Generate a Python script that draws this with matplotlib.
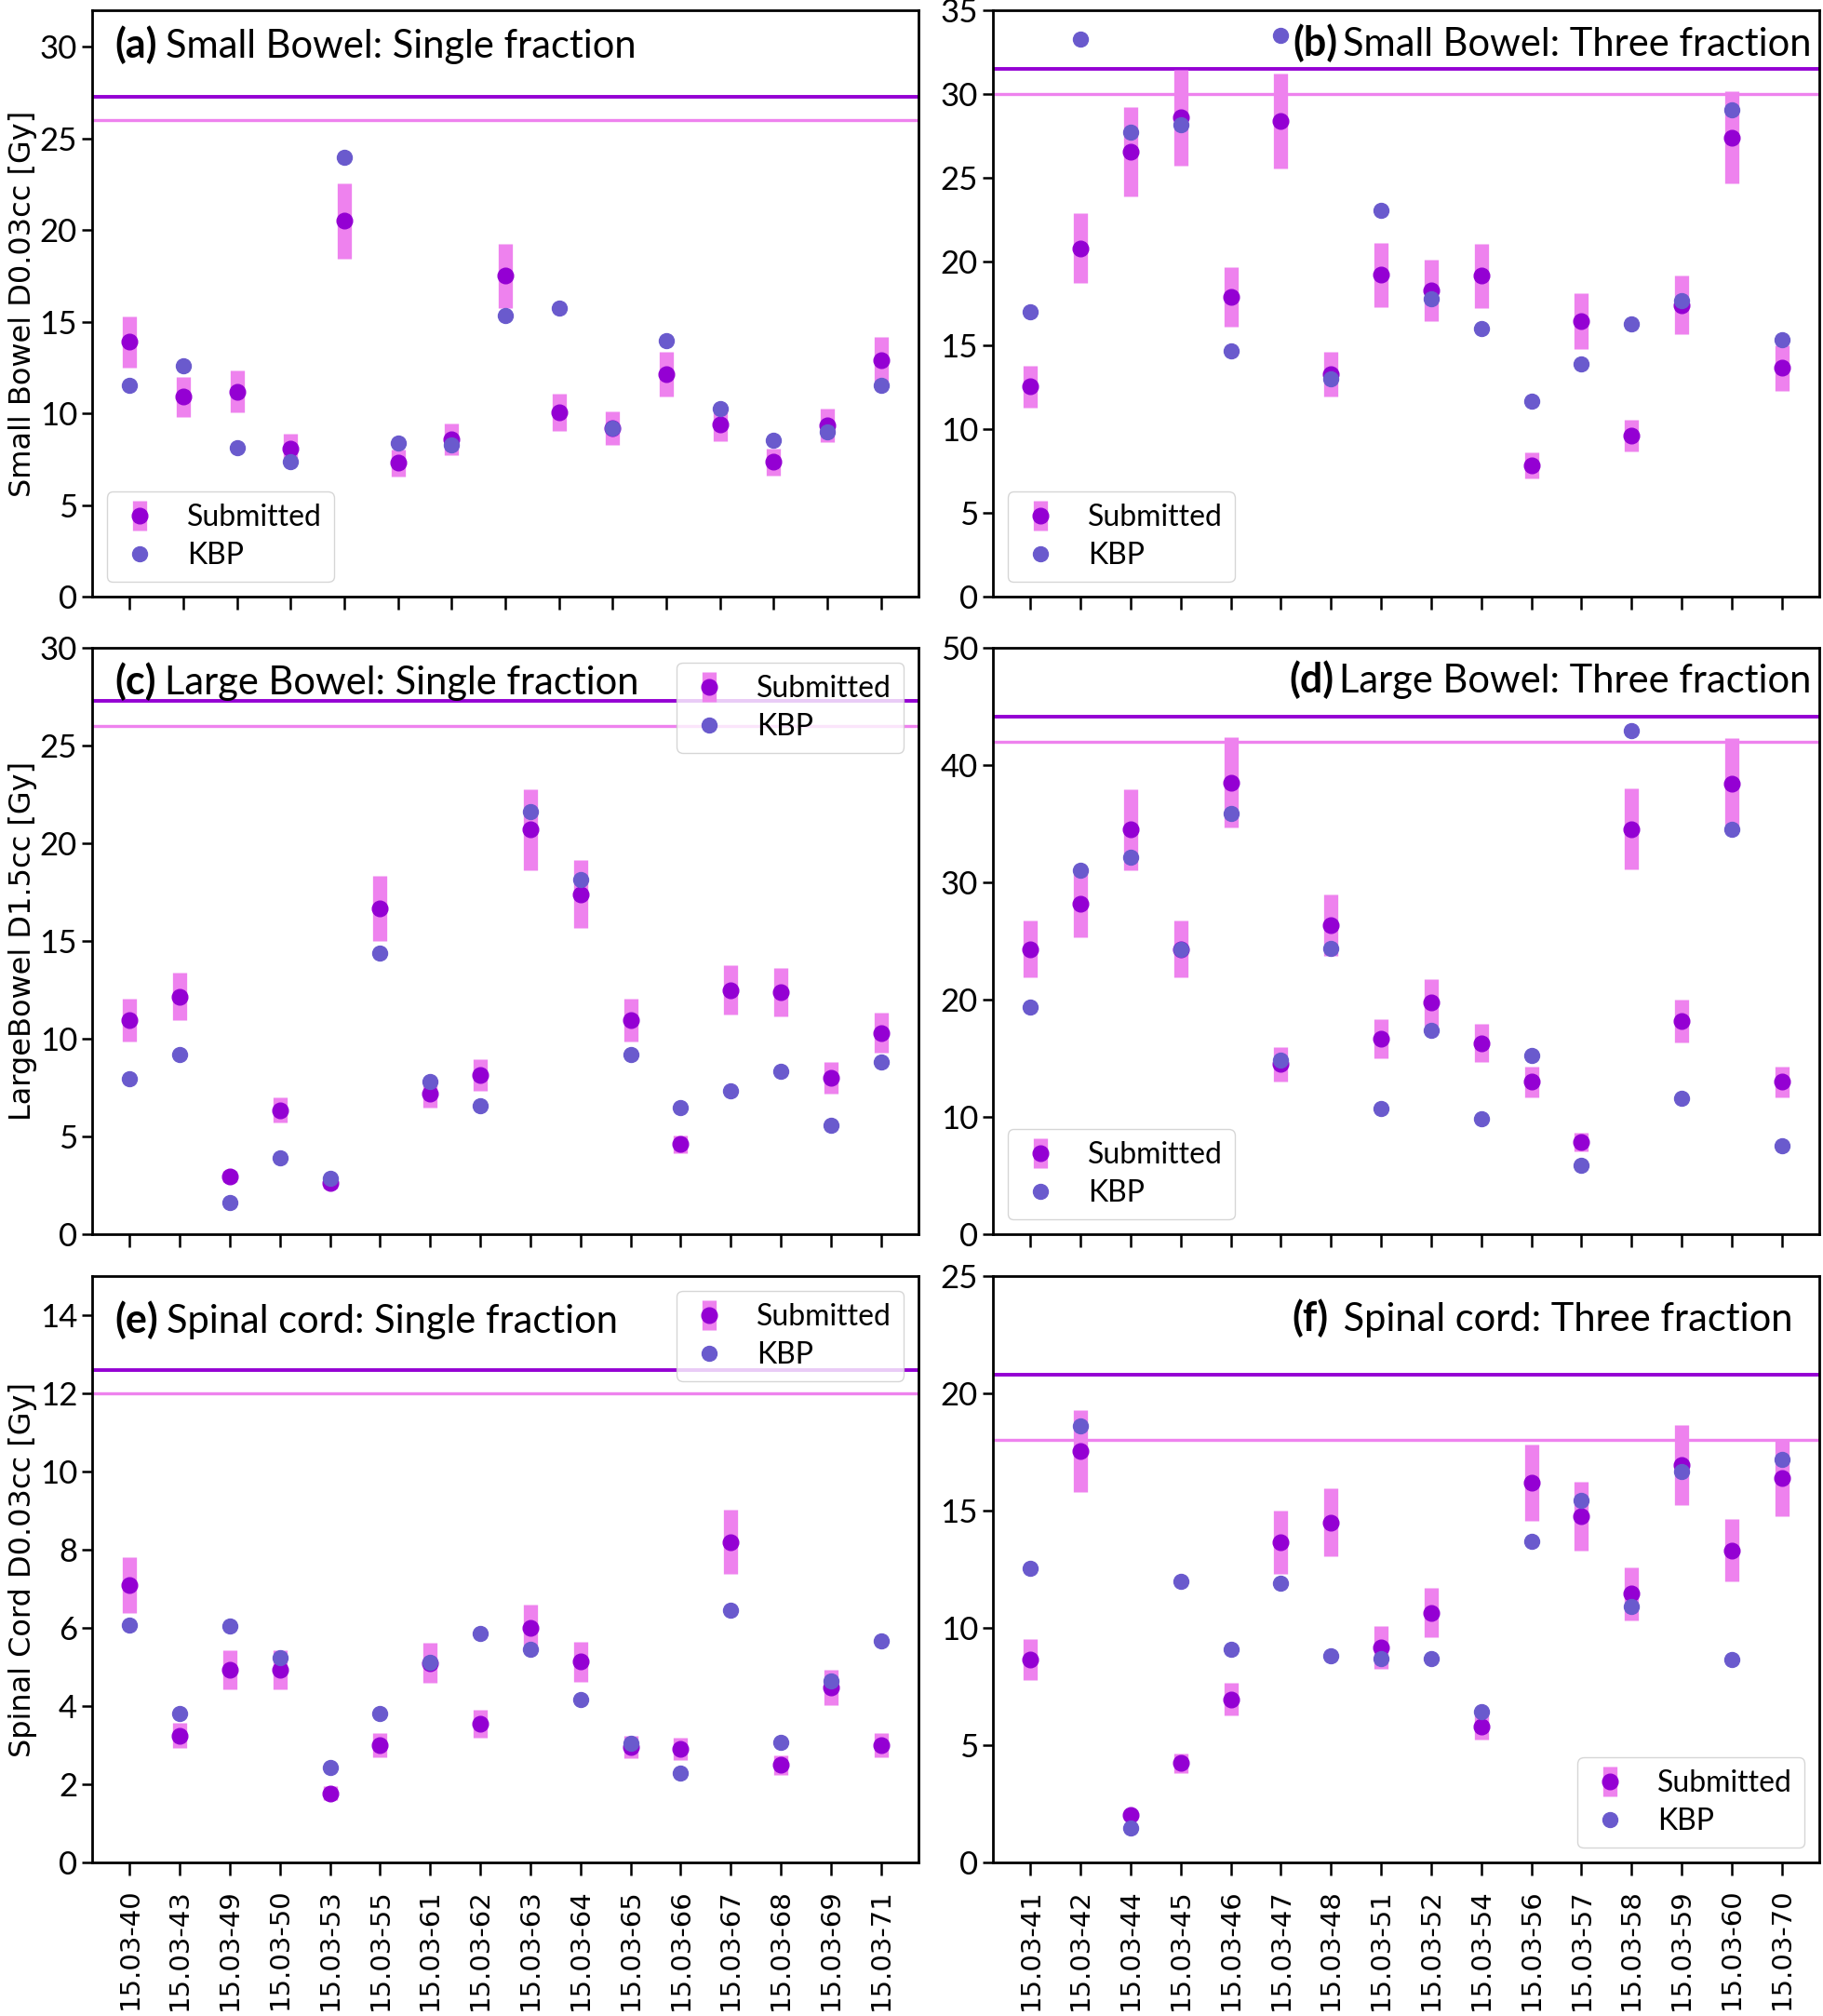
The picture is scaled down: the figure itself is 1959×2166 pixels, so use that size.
import matplotlib
matplotlib.use("Agg")
import matplotlib.pyplot as plt
import numpy as np

plt.rcParams['font.family'] = ['Lato', 'DejaVu Sans']

######### Data #########
labels_single = ['15.03-40', '15.03-43', '15.03-49', '15.03-50', '15.03-53', '15.03-55',
                 '15.03-61', '15.03-62', '15.03-63', '15.03-64', '15.03-65', '15.03-66',
                 '15.03-67', '15.03-68', '15.03-69', '15.03-71']
labels_three = ['15.03-41', '15.03-42', '15.03-44', '15.03-45', '15.03-46', '15.03-47',
                '15.03-48', '15.03-51', '15.03-52', '15.03-54', '15.03-56', '15.03-57',
                '15.03-58', '15.03-59', '15.03-60', '15.03-70']

# (a) Small bowel single fraction (15 cases)
a_sub = [13.9, 10.9, 11.2, 8.1, 20.5, 7.3, 8.6, 17.5, 10.05, 9.2, 12.15, 9.4, 7.35, 9.35, 12.9]
a_kbp = [11.55, 12.6, 8.15, 7.35, 24.0, 8.4, 8.3, 15.35, 15.75, 9.2, 13.95, 10.25, 8.55, 9.0, 11.55]
# (b) Small bowel three fraction
b_sub = [12.55, 20.8, 26.55, 28.6, 17.9, 28.4, 13.3, 19.2, 18.3, 19.15, 7.85, 16.45, 9.6, 17.4, 27.4, 13.65]
b_kbp = [17.0, 33.3, 27.75, 28.15, 14.65, 33.5, 13.0, 23.05, 17.8, 16.0, 11.65, 13.9, 16.3, 17.65, 29.05, 15.35]
# (c) Large bowel single fraction
c_sub = [10.95, 12.15, 2.95, 6.35, 2.6, 16.65, 7.2, 8.15, 20.7, 17.4, 10.95, 4.6, 12.5, 12.4, 8.0, 10.3]
c_kbp = [7.95, 9.2, 1.6, 3.9, 2.85, 14.4, 7.8, 6.55, 21.6, 18.15, 9.2, 6.5, 7.35, 8.35, 5.55, 8.8]
# (d) Large bowel three fraction
d_sub = [24.3, 28.15, 34.5, 24.3, 38.5, 14.5, 26.35, 16.65, 19.75, 16.3, 13.0, 7.85, 34.55, 18.15, 38.45, 13.0]
d_kbp = [19.4, 31.0, 32.15, 24.3, 35.85, 14.85, 24.35, 10.7, 17.4, 9.85, 15.2, 5.85, 42.9, 11.6, 34.5, 7.55]
# (e) Spinal cord single fraction
e_sub = [7.1, 3.25, 4.93, 4.93, 1.77, 3.0, 5.1, 3.55, 6.0, 5.14, 2.95, 2.9, 8.2, 2.5, 4.47, 3.0]
e_kbp = [6.07, 3.81, 6.05, 5.24, 2.42, 3.81, 5.13, 5.86, 5.45, 4.16, 3.04, 2.28, 6.45, 3.06, 4.65, 5.67]
# (f) Spinal cord three fraction
f_sub = [8.66, 17.55, 2.03, 4.23, 6.95, 13.65, 14.5, 9.15, 10.65, 5.8, 16.2, 14.75, 11.45, 16.95, 13.3, 16.4]
f_kbp = [12.55, 18.6, 1.46, 12.0, 9.07, 11.9, 8.82, 8.7, 8.7, 6.42, 13.7, 15.45, 10.9, 16.65, 8.65, 17.2]

# dose constraints (light) and the higher limit (dark)
limits = [26, 30, 26, 42, 12, 18]
limits_hi = [27.3, 31.5, 27.3, 44.1, 12.6, 20.8]
tolerance = 0.10  # +/- band around submitted dose

titles = [('(a)', 'Small Bowel: Single fraction'),
          ('(b)', 'Small Bowel: Three fraction'),
          ('(c)', 'Large Bowel: Single fraction'),
          ('(d)', 'Large Bowel: Three fraction'),
          ('(e)', 'Spinal cord: Single fraction'),
          ('(f)', ' Spinal cord: Three fraction')]
ylabels = ['Small Bowel D0.03cc [Gy]', None, 'LargeBowel D1.5cc [Gy]', None,
           'Spinal Cord D0.03cc [Gy]', None]
ylims = [32, 35, 30, 50, 15, 25]
ysteps = [5, 5, 5, 10, 2, 5]
legend_locs = ['lower left', 'lower left', 'upper right', 'lower left', 'upper right', 'lower right']

subs = [a_sub, b_sub, c_sub, d_sub, e_sub, f_sub]
kbps = [a_kbp, b_kbp, c_kbp, d_kbp, e_kbp, f_kbp]

######### Layout #########
W, H = 1959, 2166
fig = plt.figure(figsize=(W / 100, H / 100), dpi=100)

lefts = [99, 1067]
tops = [11, 696, 1371]
ax_w, ax_h = 888, 630

for i in range(6):
    row, col = divmod(i, 2)
    l = lefts[col]
    t = tops[row]
    ax = fig.add_axes([l / W, 1 - (t + ax_h) / H, ax_w / W, ax_h / H])

    sub = np.array(subs[i])
    kbp = np.array(kbps[i])
    x = np.arange(len(sub))

    ax.axhline(limits_hi[i], color='darkviolet', lw=2.8, zorder=1)
    ax.axhline(limits[i], color='violet', lw=2.4, zorder=1)

    h_sub = ax.errorbar(x, sub, yerr=tolerance * sub, fmt='o', color='darkviolet', ecolor='violet',
                        elinewidth=11, markersize=12, capsize=0, label='Submitted', zorder=2)
    h_kbp, = ax.plot(x, kbp, 'o', color='slateblue', markersize=11.5, label='KBP', zorder=3)

    ax.set_ylim(0, ylims[i])
    ax.set_yticks(np.arange(0, ylims[i] + 0.01, ysteps[i]))
    ax.set_xticks(x)
    if row == 2:
        ax.set_xticklabels(labels_single if col == 0 else labels_three, rotation=90,
                           family='DejaVu Sans', fontsize=21)
    else:
        ax.set_xticklabels([])
    ax.tick_params(axis='y', labelsize=25, length=8, width=1.8)
    ax.tick_params(axis='x', length=10, width=1.8, pad=10)
    for sp in ax.spines.values():
        sp.set_linewidth(2)

    if ylabels[i]:
        ax.set_ylabel(ylabels[i], family='DejaVu Sans', fontsize=23, labelpad=2)

    ax.legend([h_sub, h_kbp], ['Submitted', 'KBP'], loc=legend_locs[i], fontsize=23,
              handlelength=1.4, handletextpad=0.9, borderpad=0.4, labelspacing=0.35)

    bold, rest = titles[i]
    ty = [0.941, 0.941, 0.943, 0.943, 0.925, 0.925][i]
    if col == 0:
        tb = ax.text(0.028, ty, bold, transform=ax.transAxes, fontsize=31,
                     fontweight='bold', va='center', ha='left')
        ax.annotate(rest, xy=(1, 0), xycoords=tb, xytext=(6, 0), textcoords='offset points',
                    fontsize=30, va='bottom', ha='left')
    else:
        tx = 0.99 if i != 5 else 0.968
        tr = ax.text(tx, ty, rest, transform=ax.transAxes, fontsize=30, va='center', ha='right')
        ax.annotate(bold, xy=(0, 0), xycoords=tr, xytext=(-4, 0), textcoords='offset points',
                    fontsize=31, fontweight='bold', va='bottom', ha='right')

fig.savefig('out.png', dpi=100)
